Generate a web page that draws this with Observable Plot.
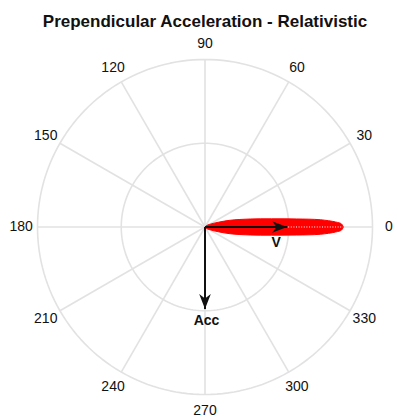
<!DOCTYPE html>
<html>
<head>
<meta charset="utf-8">
<script src="https://cdn.jsdelivr.net/npm/d3@7"></script>
<script src="https://cdn.jsdelivr.net/npm/@observablehq/plot@0.6"></script>
<style>
  html, body { margin: 0; padding: 0; background: #fff; }
  #chart svg { display: block; }
</style>
</head>
<body>
<div id="chart"></div>
<script>
// ---- data ----
const title = "Prependicular Acceleration - Relativistic";
const angleTicks = [0, 30, 60, 90, 120, 150, 180, 210, 240, 270, 300, 330];
const angleTickLabels = ["0", "30", "60", "90", "120", "150", "180", "210", "240", "270", "300", "330"];
const radialGrid = [0.5, 1];
// radiation lobe (upper half; mirrored below)
const lobeAngleDeg = [0, 1.3, 2.2, 3.6, 5, 7, 10, 15, 22, 30, 45, 90];
const lobeRadius   = [0.826, 0.815, 0.78, 0.69, 0.55, 0.40, 0.274, 0.155, 0.065, 0.03, 0.012, 0];
// arrows
const arrowLabels = ["V", "Acc"];
const arrowAngleDeg = [0, 270];
const arrowMagnitude = [0.49, 0.49];

// ---- helpers ----
const rad = d => d * Math.PI / 180;
const px = (a, r) => r * Math.cos(rad(a));
const py = (a, r) => r * Math.sin(rad(a));

const circles = radialGrid.flatMap(r =>
  d3.range(0, 361, 2).map(a => ({r, x: px(a, r), y: py(a, r)})));
const spokes = angleTicks.map(a => ({a, x2: px(a, 1), y2: py(a, 1)}));
const tickText = angleTicks.map((a, i) => ({label: angleTickLabels[i], x: px(a, 1.098), y: py(a, 1.098)}));

const upper = lobeAngleDeg.map((a, i) => ({x: px(a, lobeRadius[i]), y: py(a, lobeRadius[i])}));
const lower = upper.slice().reverse().map(d => ({x: d.x, y: -d.y}));
const lobe = upper.concat(lower);
const lobeTip = {x: px(0, lobeRadius[0]), y: py(0, lobeRadius[0])};

const arrows = arrowLabels.map((l, i) => ({
  label: l,
  angle: arrowAngleDeg[i],
  x: px(arrowAngleDeg[i], arrowMagnitude[i]),
  y: py(arrowAngleDeg[i], arrowMagnitude[i])
}));

const arrowHead = {
  draw(context) {
    context.moveTo(0, 0);
    context.lineTo(-15, -5.8);
    context.lineTo(-10.5, 0);
    context.lineTo(-15, 5.8);
    context.closePath();
  }
};

const gridColor = "#e2e2e2";

const chart = Plot.plot({
  width: 398,
  height: 420,
  margin: 0,
  x: {domain: [-1.2209, 1.1552], axis: null},
  y: {domain: [-1.1552, 1.3522], axis: null},
  style: {fontFamily: "'Liberation Sans', Arial, Helvetica, sans-serif", background: "#fff"},
  marks: [
    Plot.line(circles, {x: "x", y: "y", z: "r", stroke: gridColor, strokeWidth: 1.6}),
    Plot.link(spokes, {x1: 0, y1: 0, x2: "x2", y2: "y2", stroke: gridColor, strokeWidth: 1.6}),
    Plot.line(lobe, {x: "x", y: "y", fill: "#ff0000", stroke: "#ff0000", strokeWidth: 1, curve: "catmull-rom"}),
    Plot.link([lobeTip], {x1: 0, y1: 0, x2: "x", y2: "y", stroke: "#fff", strokeWidth: 1, strokeDasharray: "1,1.6"}),
    Plot.link(arrows, {x1: 0, y1: 0, x2: "x", y2: "y", stroke: "#111", strokeWidth: 2}),
    Plot.dot(arrows, {x: "x", y: "y", symbol: arrowHead, fill: "#111", stroke: "none", rotate: d => -d.angle}),
    Plot.text(arrows.filter(d => d.label === "V"), {x: "x", y: "y", text: "label", dx: -11, dy: 16, fontSize: 14, fontWeight: "bold", fill: "#111"}),
    Plot.text(arrows.filter(d => d.label === "Acc"), {x: "x", y: "y", text: "label", dx: 1.5, dy: 11, fontSize: 14, fontWeight: "bold", fill: "#111"}),
    Plot.text(tickText, {x: "x", y: "y", text: "label", fontSize: 14, fill: "#111"}),
    Plot.text([title], {x: 0, frameAnchor: "top", lineAnchor: "middle", dy: 21, text: d => d, fontSize: 17, fontWeight: "bold", fill: "#111"})
  ]
});
document.getElementById("chart").appendChild(chart);
</script>
</body>
</html>
